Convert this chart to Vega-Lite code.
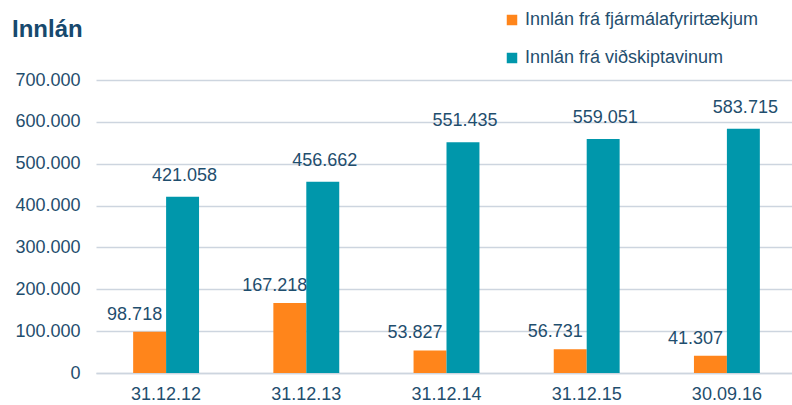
{
  "$schema": "https://vega.github.io/schema/vega-lite/v6.json",
  "width": 701,
  "height": 293,
  "autosize": {"type": "none"},
  "padding": {"left": 96, "top": 80, "right": 0, "bottom": 32},
  "background": "white",
  "title": {
    "text": "Innlán",
    "anchor": "start",
    "frame": "group",
    "dx": -84,
    "offset": 0,
    "dy": 50,
    "baseline": "alphabetic",
    "fontSize": 24,
    "font": "Liberation Sans",
    "fontWeight": "bold",
    "color": "#17496E"
  },
  "config": {
    "locale": {"number": {"decimal": ",", "thousands": ".", "grouping": [3], "currency": ["", ""]}},
    "view": {"stroke": null},
    "font": "Liberation Sans"
  },
  "data": {
    "values": [
      {"dags": "31.12.12", "flokkur": "Innlán frá fjármálafyrirtækjum", "upphaed": 98718},
      {"dags": "31.12.12", "flokkur": "Innlán frá viðskiptavinum", "upphaed": 421058},
      {"dags": "31.12.13", "flokkur": "Innlán frá fjármálafyrirtækjum", "upphaed": 167218},
      {"dags": "31.12.13", "flokkur": "Innlán frá viðskiptavinum", "upphaed": 456662},
      {"dags": "31.12.14", "flokkur": "Innlán frá fjármálafyrirtækjum", "upphaed": 53827},
      {"dags": "31.12.14", "flokkur": "Innlán frá viðskiptavinum", "upphaed": 551435},
      {"dags": "31.12.15", "flokkur": "Innlán frá fjármálafyrirtækjum", "upphaed": 56731},
      {"dags": "31.12.15", "flokkur": "Innlán frá viðskiptavinum", "upphaed": 559051},
      {"dags": "30.09.16", "flokkur": "Innlán frá fjármálafyrirtækjum", "upphaed": 41307},
      {"dags": "30.09.16", "flokkur": "Innlán frá viðskiptavinum", "upphaed": 583715}
    ]
  },
  "encoding": {
    "x": {
      "field": "dags", "type": "nominal", "sort": null, "title": null,
      "scale": {"paddingInner": 0.53, "paddingOuter": 0.265},
      "axis": {
        "labelAngle": 0, "labelFontSize": 18, "labelColor": "#1F4E6E",
        "ticks": false, "domainColor": "#CDD5DF", "domainWidth": 1.5, "labelPadding": 12
      }
    },
    "xOffset": {"field": "flokkur", "type": "nominal", "scale": {"paddingInner": 0, "paddingOuter": 0}},
    "y": {
      "field": "upphaed", "type": "quantitative", "title": null,
      "scale": {"domain": [0, 700000], "nice": false},
      "axis": {
        "values": [0, 100000, 200000, 300000, 400000, 500000, 600000, 700000],
        "format": ",d", "labelFontSize": 18, "labelColor": "#1F4E6E",
        "ticks": false, "domain": false, "gridColor": "#CDD5DF", "gridWidth": 1.5, "labelPadding": 16
      }
    }
  },
  "layer": [
    {
      "mark": {"type": "bar"},
      "encoding": {
        "color": {
          "field": "flokkur", "type": "nominal",
          "scale": {"range": ["#FF851B", "#0097AB"]},
          "legend": {
            "title": null, "orient": "none", "legendX": 407, "legendY": -69,
            "symbolType": "square", "symbolSize": 110, "symbolStrokeWidth": 0,
            "labelFontSize": 18, "labelColor": "#1F4E6E", "rowPadding": 20, "labelOffset": 4,
            "labelLimit": 400
          }
        }
      }
    },
    {
      "transform": [{"filter": "datum.flokkur == 'Innlán frá fjármálafyrirtækjum'"}],
      "mark": {"type": "text", "fontSize": 18, "color": "#1F4E6E", "baseline": "middle", "dy": -17, "dx": -15},
      "encoding": {"text": {"field": "upphaed", "type": "quantitative", "format": ",d"}}
    },
    {
      "transform": [{"filter": "datum.flokkur == 'Innlán frá viðskiptavinum'"}],
      "mark": {"type": "text", "fontSize": 18, "color": "#1F4E6E", "baseline": "middle", "dy": -21, "dx": 2},
      "encoding": {"text": {"field": "upphaed", "type": "quantitative", "format": ",d"}}
    }
  ]
}
